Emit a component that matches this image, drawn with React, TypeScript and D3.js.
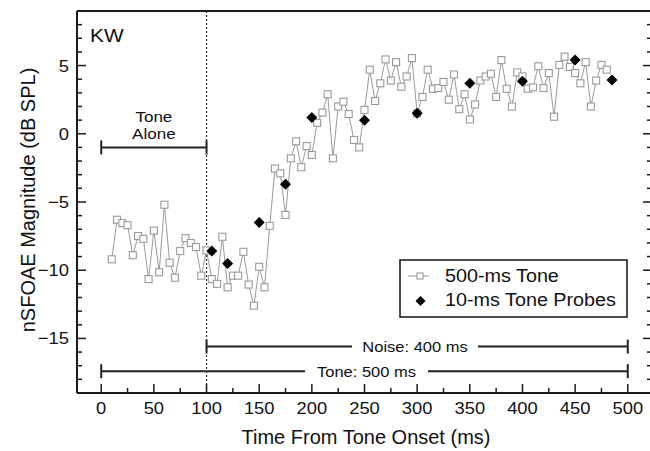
import React from 'react';
import * as d3 from 'd3';

// 500-ms tone, one point every 5 ms
const toneTimes = [
  10, 15, 20, 25, 30, 35, 40, 45, 50, 55, 60, 65, 70, 75, 80, 85, 90, 95,
  100, 105, 110, 115, 120, 125, 130, 135, 140, 145, 150, 155, 160, 165, 170, 175,
  180, 185, 190, 195, 200, 205, 210, 215, 220, 225, 230, 235, 240, 245, 250, 255,
  260, 265, 270, 275, 280, 285, 290, 295, 300, 305, 310, 315, 320, 325, 330, 335,
  340, 345, 350, 355, 360, 365, 370, 375, 380, 385, 390, 395, 400, 405, 410, 415,
  420, 425, 430, 435, 440, 445, 450, 455, 460, 465, 470, 475, 480,
];
const toneValues = [
  -9.2, -6.3, -6.55, -6.7, -8.9, -7.5, -7.7, -10.65, -7.1, -10.15, -5.2, -9.45, -10.55, -8.6, -7.65, -8.0, -8.3, -10.4,
  -8.55, -10.65, -11.0, -7.55, -11.25, -10.4, -10.4, -8.65, -11.05, -12.6, -9.75, -11.25, -6.75, -2.55, -2.9, -5.95,
  -1.8, -0.55, -2.45, -0.9, -1.55, 0.8, 1.55, 2.9, -1.8, 2.0, 2.35, 1.45, -0.45, -1.0, 1.75, 4.7,
  2.4, 3.7, 5.45, 3.9, 5.25, 3.45, 4.2, 5.55, 1.5, 2.7, 4.7, 3.3, 3.35, 3.8, 2.5, 4.35,
  1.8, 2.9, 1.05, 2.15, 3.9, 4.2, 4.4, 2.7, 5.4, 3.3, 2.0, 4.5, 4.2, 3.3, 3.4, 4.95,
  3.35, 4.45, 1.25, 5.05, 5.65, 4.9, 4.45, 3.7, 5.25, 2.0, 3.9, 5.05, 4.7,
];

// 10-ms tone probes
const probeTimes = [105, 120, 150, 175, 200, 250, 300, 350, 400, 450, 485];
const probeValues = [-8.6, -9.5, -6.5, -3.7, 1.2, 1.0, 1.5, 3.7, 3.85, 5.4, 3.95];

const xTicks = [0, 50, 100, 150, 200, 250, 300, 350, 400, 450, 500];
const yTicks = [-15, -10, -5, 0, 5];

// time spans drawn as brackets
const spanLabels = ['Noise: 400 ms', 'Tone: 500 ms'];
const spanStarts = [100, 0];
const spanEnds = [500, 500];
const spanLevels = [-15.6, -17.4];
const spanGaps = [[352, 478], [305, 428]]; // pixel gaps for text

const W = 650;
const H = 451;
const left = 77, right = 652, top = 11, bottom = 393;

const FONT = 'Liberation Sans, Arial, Helvetica, sans-serif';

const Label = ({ x, y, size, anchor = 'start', sx = 1.1, children, rotate = 0 }: any) => (
  <text
    transform={`translate(${x},${y}) rotate(${rotate}) scale(${sx},1)`}
    fontSize={size}
    fontFamily={FONT}
    textAnchor={anchor}
    fill="#111"
  >
    {children}
  </text>
);

const fmt = (v: number) => (v < 0 ? '\u2212' + Math.abs(v) : String(v));

export default function App() {
  const x = d3.scaleLinear().domain([-23, 523]).range([left, right]);
  const y = d3.scaleLinear().domain([-19, 9]).range([bottom, top]);

  const tonePts: [number, number][] = toneTimes.map((t, i) => [x(t), y(toneValues[i])]);
  const line = d3.line();

  const yMinor = d3.range(-18, 9, 1);
  const xMinor = d3.range(0, 525, 25);

  const diamond = (cx: number, cy: number, r: number) =>
    `M${cx},${cy - r}L${cx + r},${cy}L${cx},${cy + r}L${cx - r},${cy}Z`;

  return (
    <svg width={W} height={H} style={{ position: 'absolute', left: 0, top: 0, background: '#fff' }}>
      <rect width={W} height={H} fill="#fff" />

      {/* dotted tone-onset marker */}
      <line x1={x(100)} x2={x(100)} y1={top} y2={bottom} stroke="#333" strokeWidth={1.2} strokeDasharray="2,2" />

      {/* tone alone bracket */}
      <g stroke="#222" strokeWidth={2}>
        <line x1={x(0)} x2={x(100)} y1={y(-1)} y2={y(-1)} />
        <line x1={x(0)} x2={x(0)} y1={y(-1) - 7} y2={y(-1) + 7} />
        <line x1={x(100)} x2={x(100)} y1={y(-1) - 7} y2={y(-1) + 7} />
      </g>
      <Label x={x(50)} y={122} size={15.5} anchor="middle">Tone</Label>
      <Label x={x(50)} y={139} size={15.5} anchor="middle">Alone</Label>

      {spanLabels.map((lab, i) => {
        const yy = y(spanLevels[i]);
        const [g0, g1] = spanGaps[i];
        return (
          <g key={lab}>
            <g stroke="#222" strokeWidth={2}>
              <line x1={x(spanStarts[i])} x2={g0} y1={yy} y2={yy} />
              <line x1={g1} x2={x(spanEnds[i])} y1={yy} y2={yy} />
              <line x1={x(spanStarts[i])} x2={x(spanStarts[i])} y1={yy - 7} y2={yy + 7} />
              <line x1={x(spanEnds[i])} x2={x(spanEnds[i])} y1={yy - 7} y2={yy + 7} />
            </g>
            <Label x={(g0 + g1) / 2} y={yy + 5.5} size={15} anchor="middle">{lab}</Label>
          </g>
        );
      })}

      {/* 500-ms tone series */}
      <path d={line(tonePts) || ''} fill="none" stroke="#9a9a9a" strokeWidth={1} />
      {tonePts.map(([px, py], i) => (
        <rect key={i} x={px - 3.5} y={py - 3.5} width={7} height={7} fill="#fff" stroke="#9a9a9a" strokeWidth={1.1} />
      ))}

      {/* probes */}
      {probeTimes.map((t, i) => (
        <path key={t} d={diamond(x(t), y(probeValues[i]), 5.5)} fill="#000" />
      ))}

      {/* frame */}
      <g stroke="#1a1a1a" strokeWidth={2} fill="none">
        <line x1={left} x2={right} y1={top} y2={top} />
        <line x1={left} x2={right} y1={bottom} y2={bottom} />
        <line x1={left} x2={left} y1={top} y2={bottom} />
        <line x1={right} x2={right} y1={top} y2={bottom} />
      </g>

      {/* ticks */}
      <g stroke="#1a1a1a" strokeWidth={1.5}>
        {yMinor.map((v) => {
          const len = v % 5 === 0 ? 9 : 5;
          return (
            <g key={v}>
              <line x1={left} x2={left + len} y1={y(v)} y2={y(v)} />
              <line x1={right} x2={right - len} y1={y(v)} y2={y(v)} />
            </g>
          );
        })}
        {xMinor.map((t) => {
          const len = t % 50 === 0 ? 9 : 5;
          return <line key={t} x1={x(t)} x2={x(t)} y1={bottom} y2={bottom - len} />;
        })}
      </g>

      {yTicks.map((v) => (
        <Label key={v} x={69} y={y(v) + 6} size={17} anchor="end" sx={1.08}>{fmt(v)}</Label>
      ))}
      {xTicks.map((t) => (
        <Label key={t} x={x(t)} y={413.5} size={17} anchor="middle" sx={1.08}>{t}</Label>
      ))}

      <Label x={366} y={444} size={20} anchor="middle" sx={1}>Time From Tone Onset (ms)</Label>
      <Label x={35} y={200} size={20} anchor="middle" sx={1} rotate={-90}>nSFOAE Magnitude (dB SPL)</Label>

      <Label x={90} y={41.5} size={19}>KW</Label>

      {/* legend */}
      <rect x={400} y={260} width={227} height={57} fill="#fff" stroke="#111" strokeWidth={1.5} />
      <line x1={408} x2={429} y1={276} y2={276} stroke="#9a9a9a" strokeWidth={1} />
      <rect x={417} y={273} width={6} height={6} fill="#fff" stroke="#9a9a9a" strokeWidth={1.1} />
      <Label x={445} y={282} size={17.5} sx={1.13}>500-ms Tone</Label>
      <path d={diamond(420.5, 301, 5)} fill="#000" />
      <Label x={445} y={306} size={17.5} sx={1.13}>10-ms Tone Probes</Label>
    </svg>
  );
}
